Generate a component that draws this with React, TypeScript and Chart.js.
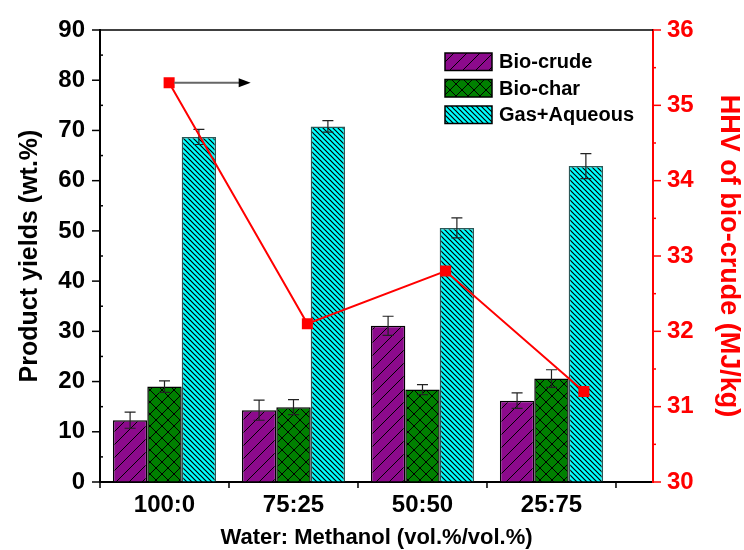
import { useEffect, useRef } from 'react';
import { Chart, registerables } from 'chart.js';
Chart.register(...registerables);

const categories = ['100:0', '75:25', '50:50', '25:75'];
const bioCrude = [12.3, 14.3, 31.1, 16.2];
const bioCrudeErr = [1.6, 2.0, 1.9, 1.55];
const bioChar = [19.0, 14.9, 18.4, 20.6];
const bioCharErr = [1.15, 1.5, 1.0, 1.75];
const gasAqueous = [68.7, 70.8, 50.6, 62.9];
const gasAqueousErr = [1.5, 1.15, 2.0, 2.5];
const hhv = [35.3, 32.1, 32.8, 31.2];
const seriesLabels = ['Bio-crude', 'Bio-char', 'Gas+Aqueous'];
const arrowTip = 0.59; // category units on the HHV x axis

const FONT = "'Liberation Sans', Arial, sans-serif";
const W = 744;
const H = 550;

function makePattern(bg: string, kind: 'fwd' | 'back' | 'cross', size: number, lw: number) {
  const c = document.createElement('canvas');
  c.width = size;
  c.height = size;
  const g = c.getContext('2d')!;
  g.fillStyle = bg;
  g.fillRect(0, 0, size, size);
  g.strokeStyle = '#000';
  g.lineWidth = lw;
  g.beginPath();
  if (kind === 'fwd' || kind === 'cross') {
    g.moveTo(-2, size + 2); g.lineTo(size + 2, -2);
    g.moveTo(-2, 2); g.lineTo(2, -2);
    g.moveTo(size - 2, size + 2); g.lineTo(size + 2, size - 2);
  }
  if (kind === 'back' || kind === 'cross') {
    g.moveTo(-2, -2); g.lineTo(size + 2, size + 2);
    g.moveTo(size - 2, -2); g.lineTo(size + 2, 2);
    g.moveTo(-2, size - 2); g.lineTo(2, size + 2);
  }
  g.stroke();
  const ctx = document.createElement('canvas').getContext('2d')!;
  return ctx.createPattern(c, 'repeat')!;
}

const barDecor = {
  id: 'barDecor',
  afterDatasetsDraw(chart: any) {
    const ctx = chart.ctx;
    const y = chart.scales.y;
    chart.data.datasets.forEach((ds: any, di: number) => {
      if (!ds.errors) return;
      const meta = chart.getDatasetMeta(di);
      meta.data.forEach((el: any, i: number) => {
        const v = ds.data[i].y;
        const e = ds.errors[i];
        const top = y.getPixelForValue(v + e);
        const bot = y.getPixelForValue(v - e);
        ctx.save();
        ctx.strokeStyle = '#222';
        ctx.lineWidth = 1.2;
        ctx.beginPath();
        ctx.moveTo(el.x, top); ctx.lineTo(el.x, bot);
        ctx.moveTo(el.x - 5.5, top); ctx.lineTo(el.x + 5.5, top);
        ctx.moveTo(el.x - 5.5, bot); ctx.lineTo(el.x + 5.5, bot);
        ctx.stroke();
        ctx.restore();
      });
    });
  },
  afterDraw(chart: any) {
    const ctx = chart.ctx;
    const ca = chart.chartArea;
    const { x, y, y2 } = chart.scales;
    ctx.save();
    ctx.strokeStyle = '#000';
    ctx.lineWidth = 1.5;
    ctx.beginPath();
    ctx.moveTo(ca.left, ca.top);
    ctx.lineTo(ca.right, ca.top);
    ctx.stroke();
    y.ticks.forEach((t: any) => {
      const py = y.getPixelForValue(t.value);
      ctx.beginPath();
      if (t.label !== '') { ctx.moveTo(ca.left - 8, py); ctx.lineTo(ca.left, py); }
      else { ctx.moveTo(ca.left, py); ctx.lineTo(ca.left + 3, py); }
      ctx.stroke();
    });
    ctx.strokeStyle = '#ff0000';
    y2.ticks.forEach((t: any) => {
      const py = y2.getPixelForValue(t.value);
      ctx.beginPath();
      if (t.label !== '') { ctx.moveTo(ca.right, py); ctx.lineTo(ca.right + 8, py); }
      else { ctx.moveTo(ca.right, py); ctx.lineTo(ca.right + 3, py); }
      ctx.stroke();
    });
    ctx.strokeStyle = '#000';
    for (let i = 0; i <= categories.length; i++) {
      const px = x.getPixelForValue(i - 0.5);
      ctx.beginPath();
      ctx.moveTo(px, ca.bottom);
      ctx.lineTo(px, ca.bottom + 6);
      ctx.stroke();
    }
    chart.data.datasets.forEach((d: any, i: number) => {
      const bx = ca.left + 345;
      const by = ca.top + 23 + i * 26.5;
      ctx.fillStyle = d.backgroundColor;
      ctx.fillRect(bx, by, 47, 17.5);
      ctx.strokeStyle = '#000';
      ctx.lineWidth = 1.5;
      ctx.strokeRect(bx, by, 47, 17.5);
      ctx.fillStyle = '#000';
      ctx.font = `bold 20px ${FONT}`;
      ctx.textBaseline = 'middle';
      ctx.textAlign = 'left';
      ctx.fillText(d.label, bx + 54, by + 9.5);
    });
    ctx.restore();
  },
};

const arrowDecor = {
  id: 'arrowDecor',
  afterDraw(chart: any) {
    const ctx = chart.ctx;
    const { x, y2 } = chart.scales;
    const p0x = x.getPixelForValue(0);
    const p0y = y2.getPixelForValue(hhv[0]);
    const tip = x.getPixelForValue(arrowTip);
    ctx.save();
    ctx.strokeStyle = '#666';
    ctx.lineWidth = 2;
    ctx.beginPath();
    ctx.moveTo(p0x + 5, p0y);
    ctx.lineTo(tip - 11, p0y);
    ctx.stroke();
    ctx.fillStyle = '#000';
    ctx.beginPath();
    ctx.moveTo(tip, p0y);
    ctx.lineTo(tip - 12, p0y - 4.5);
    ctx.lineTo(tip - 12, p0y + 4.5);
    ctx.closePath();
    ctx.fill();
    ctx.restore();
  },
};

export default function App() {
  const barRef = useRef<HTMLCanvasElement | null>(null);
  const lineRef = useRef<HTMLCanvasElement | null>(null);
  useEffect(() => {
    document.body.style.margin = '0';
    const crudeP = makePattern('#8C0A8C', 'fwd', 13, 1);
    const charP = makePattern('#008000', 'cross', 12, 1);
    const gasP = makePattern('#00FFFF', 'back', 5, 1.2);
    const toXY = (arr: number[]) => arr.map((v, i) => ({ x: i, y: v }));
    const tickFont = { family: FONT, size: 24, weight: 'bold' as const };
    const barCommon = {
      type: 'bar', xAxisID: 'x', yAxisID: 'y', borderWidth: 1.5,
      categoryPercentage: 0.8, barPercentage: 1.0,
    };
    const hiddenGrid = { display: false };
    const barChart = new Chart(barRef.current!, {
      type: 'bar',
      data: {
        datasets: [
          { ...barCommon, label: seriesLabels[0], data: toXY(bioCrude), errors: bioCrudeErr, backgroundColor: crudeP, borderColor: '#000' } as any,
          { ...barCommon, label: seriesLabels[1], data: toXY(bioChar), errors: bioCharErr, backgroundColor: charP, borderColor: '#000' } as any,
          { ...barCommon, label: seriesLabels[2], data: toXY(gasAqueous), errors: gasAqueousErr, backgroundColor: gasP, borderColor: '#2a5858' } as any,
        ],
      },
      options: {
        animation: false,
        responsive: false,
        layout: { padding: { top: 30, left: 0, right: 0, bottom: 0 } },
        plugins: { legend: { display: false }, tooltip: { enabled: false } },
        scales: {
          x: {
            type: 'linear', position: 'bottom', min: -0.5, max: 3.787, offset: false, bounds: 'data',
            afterBuildTicks: (s: any) => { s.ticks = categories.map((_, i) => ({ value: i })); },
            afterFit: (s: any) => { s.height = 68; },
            ticks: {
              callback: (v: any) => categories[v] ?? '', autoSkip: false, maxRotation: 0,
              font: tickFont, color: '#000', padding: 3,
            },
            grid: { display: true, offset: false, drawOnChartArea: false, drawTicks: true, tickLength: 6, color: 'transparent' },
            border: { display: true, color: '#000', width: 2 },
            title: {
              display: true, text: 'Water: Methanol (vol.%/vol.%)', color: '#000',
              font: { family: FONT, size: 22, weight: 'bold', lineHeight: 1 }, padding: { top: 0, bottom: 1 },
            },
          },
          y: {
            type: 'linear', position: 'left', min: 0, max: 90,
            afterFit: (s: any) => { s.width = 100; },
            ticks: {
              stepSize: 5, autoSkip: false,
              callback: (v: any) => (v % 10 === 0 ? String(v) : ''),
              font: tickFont, color: '#000', padding: 7,
            },
            grid: { display: true, drawOnChartArea: false, drawTicks: true, tickLength: 8, color: 'transparent' },
            border: { display: true, color: '#000', width: 2 },
            title: {
              display: true, text: 'Product yields (wt.%)', color: '#000',
              font: { family: FONT, size: 25, weight: 'bold', lineHeight: 1 }, padding: { top: 17.5, bottom: 0 },
            },
          },
          y2: {
            type: 'linear', position: 'right', min: 30, max: 36,
            afterFit: (s: any) => { s.width = 91; },
            ticks: {
              stepSize: 0.5, autoSkip: false,
              callback: (v: any) => (Math.abs(v - Math.round(v)) < 1e-6 ? String(Math.round(v)) : ''),
              font: tickFont, color: '#ff0000', padding: 6,
            },
            grid: { display: true, drawOnChartArea: false, drawTicks: true, tickLength: 8, color: 'transparent' },
            border: { display: true, color: '#ff0000', width: 2 },
            title: {
              display: true, text: 'HHV of bio-crude (MJ/kg)', color: '#ff0000',
              font: { family: FONT, size: 27, weight: 'bold', lineHeight: 1 }, padding: { top: 2.5, bottom: 0 },
            },
          },
        },
      } as any,
      plugins: [barDecor],
    });

    const lineChart = new Chart(lineRef.current!, {
      type: 'line',
      data: {
        labels: categories,
        datasets: [
          {
            label: 'HHV', data: hhv, xAxisID: 'x', yAxisID: 'y2',
            borderColor: '#ff0000', borderWidth: 2, pointStyle: 'rect', pointRadius: 7.8,
            pointBackgroundColor: '#ff0000', pointBorderColor: '#ff0000', pointBorderWidth: 0,
            tension: 0, fill: false,
          },
        ],
      },
      options: {
        animation: false,
        responsive: false,
        layout: { padding: { top: 30, left: 0, right: 0, bottom: 0 } },
        plugins: { legend: { display: false }, tooltip: { enabled: false } },
        scales: {
          x: {
            type: 'category', position: 'bottom', offset: true,
            afterFit: (s: any) => { s.height = 68; },
            ticks: { display: false }, grid: hiddenGrid, border: { display: false },
          },
          y: {
            type: 'linear', position: 'left', min: 0, max: 90,
            afterFit: (s: any) => { s.width = 100; },
            ticks: { display: false }, grid: hiddenGrid, border: { display: false },
          },
          y2: {
            type: 'linear', position: 'right', min: 30, max: 36,
            afterFit: (s: any) => { s.width = 91; },
            ticks: { display: false }, grid: hiddenGrid, border: { display: false },
          },
        },
      } as any,
      plugins: [arrowDecor],
    });
    return () => {
      barChart.destroy();
      lineChart.destroy();
    };
  }, []);
  return (
    <div style={{ width: W, height: H, position: 'relative' }}>
      <canvas ref={barRef} width={W} height={H} style={{ position: 'absolute', left: 0, top: 0 }} />
      <canvas ref={lineRef} width={W} height={H} style={{ position: 'absolute', left: 0, top: 0 }} />
    </div>
  );
}
